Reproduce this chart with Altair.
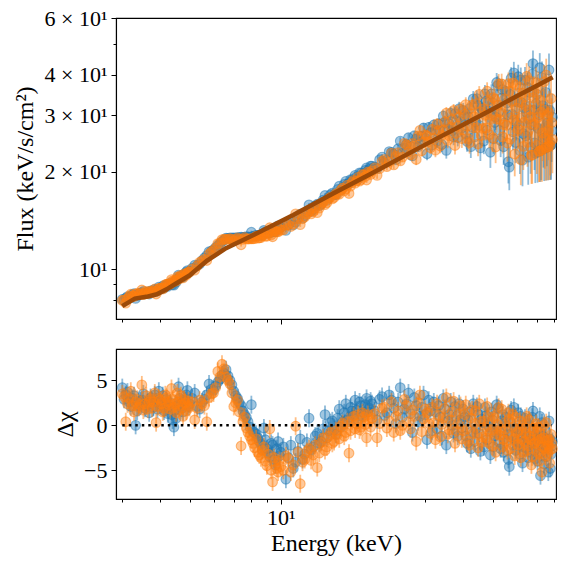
import altair as alt
import pandas as pd

# ---------------------------------------------------------------------------
# Spectral bins, first grid (keV)
energy_1 = [
    3.00, 3.08, 3.16, 3.24, 3.32, 3.40, 3.48, 3.56, 3.64, 3.72, 3.80, 3.88, 3.96,
    4.04, 4.12, 4.20, 4.28, 4.36, 4.44, 4.52, 4.60, 4.68, 4.76, 4.84, 4.92,
    5.0, 5.2, 5.4, 5.6, 5.8, 6.0, 6.2, 6.4, 6.6, 6.8, 7.0, 7.2, 7.4, 7.6, 7.8,
    8.0, 8.2, 8.4, 8.6, 8.8, 9.0, 9.2, 9.4, 9.6, 9.8,
    10.0, 10.4, 10.8, 11.2, 11.6, 12.0, 12.4, 12.8, 13.2, 13.6, 14.0, 14.4, 14.8,
    15.2, 15.6, 16.0, 16.4, 16.8, 17.2, 17.6, 18.0, 18.4, 18.8, 19.2, 19.6,
    20.0, 20.8, 21.6, 22.4, 23.2, 24.0, 24.8, 25.6, 26.4, 27.2, 28.0, 28.8, 29.6,
    30.4, 31.2, 32.0, 32.8, 33.6, 34.4, 35.2, 36.0, 36.8, 37.6, 38.4, 39.2,
    40.0, 40.8, 41.6, 42.4, 43.2, 44.0, 44.8, 45.6, 46.4, 47.2, 48.0, 48.8, 49.6,
    50.4, 51.2, 52.0, 52.8, 53.6, 54.4, 55.2, 56.0, 56.8, 57.6, 58.4, 59.2,
    60.0, 60.8, 61.6, 62.4, 63.2, 64.0, 64.8, 65.6, 66.4, 67.2, 68.0, 68.8, 69.6,
    70.4, 71.2, 72.0, 72.8, 73.6, 74.4, 75.2, 76.0, 76.8, 77.6, 78.4,
]
flux_err_1 = [
    0.09, 0.09, 0.10, 0.10, 0.10, 0.10, 0.10, 0.10, 0.10, 0.10, 0.10, 0.10, 0.10,
    0.10, 0.10, 0.10, 0.10, 0.11, 0.11, 0.11, 0.11, 0.11, 0.11, 0.11, 0.11,
    0.11, 0.12, 0.12, 0.13, 0.13, 0.13, 0.13, 0.14, 0.14, 0.14, 0.14, 0.14, 0.15, 0.15, 0.15,
    0.15, 0.15, 0.16, 0.16, 0.16, 0.16, 0.16, 0.16, 0.17, 0.17,
    0.18, 0.19, 0.20, 0.21, 0.22, 0.22, 0.23, 0.24, 0.25, 0.26, 0.27, 0.27, 0.28,
    0.29, 0.30, 0.31, 0.32, 0.33, 0.33, 0.35, 0.36, 0.37, 0.38, 0.39, 0.40,
    0.44, 0.47, 0.51, 0.56, 0.60, 0.64, 0.68, 0.73, 0.77, 0.82, 0.87, 0.92, 0.96,
    1.02, 1.06, 1.12, 1.17, 1.23, 1.27, 1.34, 1.38, 1.45, 1.49, 1.56, 1.61,
    1.68, 1.75, 1.80, 1.87, 1.92, 2.00, 2.07, 2.12, 2.20, 2.25, 2.33, 2.41, 2.46,
    2.55, 2.60, 2.68, 2.77, 2.82, 2.91, 2.96, 3.05, 3.14, 3.19, 3.28, 3.34,
    3.43, 3.52, 3.58, 3.67, 3.73, 3.83, 3.92, 3.98, 4.08, 4.14, 4.24, 4.33, 4.39,
    4.50, 4.56, 4.66, 4.76, 4.82, 4.93, 4.99, 5.09, 5.20, 5.26, 5.37,
]
flux_a_1 = [
    8.05, 8.12, 8.18, 8.32, 8.11, 8.35, 8.45, 8.38, 8.46, 8.56, 8.49, 8.60, 8.79,
    8.72, 8.72, 8.95, 8.96, 8.96, 8.91, 9.11, 9.57, 9.46, 9.45, 9.66, 9.89,
    9.83, 10.27, 10.37, 10.82, 11.31, 11.46, 11.83, 12.16, 12.46, 12.48, 12.48, 12.51, 12.55, 12.55, 12.58,
    13.00, 12.67, 12.72, 12.75, 13.17, 12.95, 12.93, 13.27, 13.04, 13.60,
    13.48, 13.18, 14.13, 13.98, 14.78, 14.64, 15.80, 15.29, 15.88, 15.88, 16.90, 16.65, 17.19,
    16.99, 18.05, 17.85, 18.70, 18.46, 18.91, 19.52, 19.01, 19.81, 19.74, 20.59, 20.37,
    20.85, 20.47, 22.23, 21.73, 22.99, 21.82, 24.92, 23.72, 25.53, 22.42, 25.33, 24.69, 27.37,
    22.77, 26.44, 27.96, 24.90, 26.76, 29.79, 23.33, 28.21, 26.85, 30.29, 25.56, 28.69,
    31.02, 26.19, 29.63, 23.96, 33.70, 28.58, 32.12, 23.74, 30.82, 34.92, 26.93, 30.44, 34.89,
    25.33, 29.59, 37.03, 26.93, 33.84, 23.93, 35.55, 30.08, 20.69, 39.04, 26.62, 33.07,
    28.46, 39.46, 23.28, 32.77, 26.26, 38.47, 30.54, 22.23, 35.25, 28.02, 43.30, 24.60, 32.53,
    23.03, 30.07, 23.29, 39.21, 25.45, 31.27, 23.80, 28.40, 41.39, 24.17, 26.85,
]
flux_b_1 = [
    7.99, 7.84, 8.22, 8.24, 8.36, 8.34, 8.61, 8.43, 8.39, 8.54, 8.55, 8.37, 8.70,
    8.73, 8.76, 8.97, 8.98, 9.27, 9.14, 9.17, 9.38, 9.56, 9.39, 9.64, 9.70,
    9.78, 9.92, 10.49, 10.72, 11.12, 11.42, 11.99, 12.33, 12.35, 12.42, 12.23, 12.49, 11.89, 12.52, 12.39,
    12.41, 12.42, 12.47, 12.52, 12.84, 12.64, 13.43, 12.59, 13.11, 13.04,
    13.19, 13.67, 13.55, 14.82, 13.73, 14.51, 15.02, 15.08, 14.96, 15.87, 15.83, 16.50, 16.50,
    17.11, 17.05, 17.80, 17.70, 17.15, 18.55, 18.46, 19.23, 18.93, 19.57, 18.88, 19.86,
    20.15, 19.52, 21.56, 20.78, 22.88, 22.34, 21.64, 24.52, 23.06, 24.49, 21.86, 26.89, 24.76,
    25.84, 23.77, 25.38, 28.15, 24.07, 26.98, 30.42, 25.87, 29.02, 24.15, 27.73, 31.27,
    26.99, 32.32, 25.32, 30.33, 27.38, 32.57, 24.44, 30.74, 27.29, 29.96, 35.58, 26.11, 29.93,
    33.98, 23.89, 32.18, 29.11, 37.50, 28.01, 31.71, 24.58, 35.57, 29.47, 37.75, 22.72,
    31.55, 27.13, 36.56, 29.48, 24.01, 34.29, 39.56, 26.72, 31.17, 22.50, 33.95, 28.05, 37.82,
    29.50, 23.16, 33.35, 23.42, 31.22, 25.39, 39.89, 23.93, 30.49, 24.76, 28.45,
]
resid_a_1 = [
    4.2, 3.4, 2.6, 3.0, 0.0, 2.2, 2.8, 1.9, 2.5, 3.1, 2.0, 2.6, 3.8,
    2.3, 1.6, 2.9, 2.1, 1.2, -0.2, 0.8, 4.3, 2.4, 1.5, 2.7, 3.9,
    2.4, 3.6, 1.8, 2.9, 4.6, 3.9, 4.8, 5.6, 6.2, 5.0, 3.8, 3.0, 2.2, 1.2, 0.4,
    2.3, -0.8, -1.4, -2.1, -0.3, -2.6, -3.5, -2.2, -4.4, -1.8,
    -3.0, -6.0, -2.2, -4.1, -1.5, -3.2, 0.8, -2.4, -0.9, -1.8, 1.2, -0.6, 0.5,
    -1.0, 1.8, 0.4, 2.4, 0.9, 1.6, 2.8, 0.6, 2.2, 1.4, 3.0, 1.9,
    2.4, 0.6, 3.2, 1.4, 2.8, 0.2, 4.2, 1.8, 3.6, -0.8, 2.2, 1.0, 3.4,
    -1.6, 1.6, 2.6, -0.4, 0.9, 3.0, -2.2, 1.2, 0.0, 2.1, -1.2, 0.6,
    1.8, -1.2, 0.6, -2.6, 2.4, -0.4, 1.2, -2.9, 0.3, 2.0, -1.6, -0.2, 1.5,
    -2.4, -0.8, 1.9, -1.9, 0.5, -3.0, 0.9, -1.0, -4.6, 1.7, -2.2, -0.3,
    -1.7, 1.4, -3.2, -0.6, -2.4, 0.8, -1.3, -3.6, -0.2, -2.0, 1.6, -2.8, -1.0,
    -4.0, -1.6, -5.6, 0.3, -2.6, -1.4, -3.5, -2.0, 0.5, -4.8, -2.3,
]
resid_b_1 = [
    3.5, 0.4, 3.0, 2.2, 2.6, 2.0, 4.5, 2.4, 1.8, 2.9, 2.6, 0.3, 3.0,
    2.4, 1.9, 3.1, 2.3, 4.1, 2.0, 1.4, 2.6, 3.3, 1.0, 2.5, 2.2,
    2.0, 0.6, 2.8, 2.2, 3.1, 3.6, 6.0, 6.8, 5.4, 4.6, 2.1, 2.8, -2.3, 0.9, -0.8,
    -1.6, -2.5, -3.0, -3.6, -2.4, -4.5, -0.4, -6.3, -4.0, -5.2,
    -4.6, -3.4, -5.2, -0.1, -6.5, -3.8, -2.6, -3.3, -4.7, -1.9, -2.8, -1.2, -2.0,
    -0.6, -1.5, 0.2, -0.8, -3.1, 0.5, -0.4, 1.2, -0.2, 0.9, -1.4, 0.6,
    0.8, -1.4, 1.9, -0.3, 2.6, 1.0, -0.6, 2.9, 0.4, 1.7, -1.8, 3.4, 0.7,
    1.4, -0.9, 0.3, 2.4, -1.3, 0.8, 3.1, -0.5, 1.5, -2.0, 0.2, 2.2,
    -0.6, 2.3, -1.8, 0.8, -0.9, 1.6, -2.5, 0.4, -1.3, -0.2, 2.1, -2.0, -0.5,
    1.0, -3.0, 0.1, -1.1, 1.8, -1.6, -0.4, -2.8, 0.7, -1.3, 1.2, -3.4,
    -0.8, -2.1, 0.5, -1.5, -3.0, -0.3, 1.0, -2.3, -1.2, -4.4, -0.6, -2.0, 0.2,
    -1.7, -3.2, -0.9, -5.2, -1.4, -2.6, 0.3, -3.1, -1.6, -2.7, -2.0,
]

# ---------------------------------------------------------------------------
# Spectral bins, second (interleaved) grid (keV)
energy_2 = [
    3.04, 3.12, 3.20, 3.28, 3.36, 3.44, 3.52, 3.60, 3.68, 3.76, 3.84, 3.92, 4.00,
    4.08, 4.16, 4.24, 4.32, 4.40, 4.48, 4.56, 4.64, 4.72, 4.80, 4.88, 4.96,
    5.1, 5.3, 5.5, 5.7, 5.9, 6.1, 6.3, 6.5, 6.7, 6.9, 7.1, 7.3, 7.5, 7.7, 7.9,
    8.1, 8.3, 8.5, 8.7, 8.9, 9.1, 9.3, 9.5, 9.7, 9.9,
    10.2, 10.6, 11.0, 11.4, 11.8, 12.2, 12.6, 13.0, 13.4, 13.8, 14.2, 14.6, 15.0,
    15.4, 15.8, 16.2, 16.6, 17.0, 17.4, 17.8, 18.2, 18.6, 19.0, 19.4, 19.8,
    20.4, 21.2, 22.0, 22.8, 23.6, 24.4, 25.2, 26.0, 26.8, 27.6, 28.4, 29.2, 30.0,
    30.8, 31.6, 32.4, 33.2, 34.0, 34.8, 35.6, 36.4, 37.2, 38.0, 38.8, 39.6,
    40.4, 41.2, 42.0, 42.8, 43.6, 44.4, 45.2, 46.0, 46.8, 47.6, 48.4, 49.2, 50.0,
    50.8, 51.6, 52.4, 53.2, 54.0, 54.8, 55.6, 56.4, 57.2, 58.0, 58.8, 59.6,
    60.4, 61.2, 62.0, 62.8, 63.6, 64.4, 65.2, 66.0, 66.8, 67.6, 68.4, 69.2, 70.0,
    70.8, 71.6, 72.4, 73.2, 74.0, 74.8, 75.6, 76.4, 77.2, 78.0, 78.8,
]
flux_err_2 = [
    0.09, 0.09, 0.10, 0.10, 0.10, 0.10, 0.10, 0.10, 0.10, 0.10, 0.10, 0.10, 0.10,
    0.10, 0.10, 0.10, 0.11, 0.11, 0.11, 0.11, 0.11, 0.11, 0.11, 0.11, 0.11,
    0.12, 0.12, 0.12, 0.13, 0.13, 0.13, 0.14, 0.14, 0.14, 0.14, 0.14, 0.15, 0.15, 0.15, 0.15,
    0.15, 0.15, 0.16, 0.16, 0.16, 0.16, 0.16, 0.16, 0.17, 0.17,
    0.19, 0.19, 0.21, 0.21, 0.22, 0.23, 0.23, 0.24, 0.25, 0.26, 0.27, 0.28, 0.29,
    0.30, 0.31, 0.31, 0.32, 0.33, 0.34, 0.35, 0.36, 0.37, 0.38, 0.39, 0.41,
    0.46, 0.50, 0.54, 0.58, 0.62, 0.66, 0.71, 0.75, 0.80, 0.85, 0.90, 0.95, 0.99,
    1.04, 1.10, 1.15, 1.20, 1.25, 1.31, 1.36, 1.42, 1.48, 1.53, 1.59, 1.65,
    1.71, 1.77, 1.84, 1.90, 1.96, 2.03, 2.10, 2.16, 2.23, 2.30, 2.37, 2.43, 2.50,
    2.57, 2.65, 2.72, 2.79, 2.86, 2.94, 3.01, 3.09, 3.16, 3.24, 3.31, 3.39,
    3.47, 3.55, 3.63, 3.70, 3.79, 3.87, 3.95, 4.03, 4.11, 4.19, 4.28, 4.36, 4.44,
    4.53, 4.62, 4.70, 4.79, 4.87, 4.96, 5.05, 5.14, 5.23, 5.32, 5.41,
]
flux_a_2 = [
    8.00, 8.21, 8.18, 8.39, 8.28, 8.42, 8.52, 8.41, 8.37, 8.55, 8.65, 8.55, 8.70,
    8.86, 8.81, 8.84, 9.05, 8.94, 9.15, 9.30, 9.48, 9.44, 9.64, 9.79, 9.74,
    10.05, 10.25, 10.62, 11.01, 11.35, 11.65, 11.98, 12.30, 12.45, 12.49, 12.48, 12.51, 12.53, 12.59, 12.55,
    12.62, 12.72, 12.72, 12.73, 13.04, 12.93, 13.23, 13.07, 13.40, 13.39,
    13.71, 13.72, 13.71, 14.35, 14.38, 15.05, 15.10, 15.69, 15.72, 16.36, 16.32, 17.01, 17.03,
    17.64, 17.57, 18.29, 18.26, 18.93, 18.86, 19.30, 19.86, 19.47, 20.21, 20.11, 20.84,
    20.72, 21.81, 21.35, 23.11, 22.69, 23.60, 22.87, 24.39, 23.95, 25.89, 23.95, 25.82, 25.44,
    27.49, 24.24, 26.91, 28.16, 24.32, 28.47, 27.11, 30.40, 25.68, 28.82, 31.39, 27.36,
    29.69, 24.87, 31.44, 27.63, 25.69, 33.75, 27.89, 31.53, 24.93, 33.09, 30.80, 23.01, 32.80,
    28.46, 37.87, 30.70, 25.02, 35.98, 28.38, 32.71, 21.51, 34.75, 30.15, 40.57, 24.68,
    33.03, 27.88, 38.49, 21.75, 31.53, 25.87, 36.54, 29.14, 23.84, 40.19, 31.05, 22.83, 34.82,
    27.27, 42.07, 23.58, 32.11, 23.61, 35.30, 25.87, 23.99, 31.03, 24.24, 29.55,
]
flux_b_2 = [
    8.02, 8.09, 8.35, 8.22, 8.41, 8.39, 8.34, 8.53, 8.49, 8.46, 8.67, 8.58, 8.73,
    8.67, 8.95, 8.97, 8.98, 9.19, 9.23, 9.45, 9.33, 9.49, 9.65, 9.58, 9.80,
    10.00, 10.23, 10.60, 10.63, 11.29, 11.61, 12.02, 12.37, 12.38, 12.36, 12.36, 12.37, 12.36, 12.40, 12.40,
    12.41, 12.64, 12.49, 12.70, 12.65, 12.92, 12.75, 13.11, 13.03, 13.30,
    13.23, 13.71, 13.79, 14.32, 14.32, 14.81, 14.82, 15.45, 15.44, 16.10, 16.05, 16.71, 16.66,
    17.10, 17.58, 17.47, 18.19, 18.07, 18.82, 18.77, 18.72, 19.63, 19.36, 19.99, 19.64,
    20.60, 20.48, 21.85, 21.44, 21.02, 22.94, 22.23, 24.23, 22.60, 24.10, 25.84, 23.26, 26.04,
    24.79, 27.08, 23.36, 26.84, 25.95, 28.60, 25.05, 27.56, 31.00, 26.36, 29.65, 25.38,
    30.19, 27.71, 24.64, 32.20, 29.61, 27.46, 34.80, 25.92, 31.41, 27.34, 33.17, 29.09, 25.54,
    33.60, 29.16, 37.50, 30.61, 25.67, 33.65, 27.89, 37.57, 25.28, 33.08, 28.99, 37.22,
    26.77, 32.86, 21.82, 35.08, 28.50, 32.05, 24.70, 38.38, 29.60, 22.57, 35.33, 28.54, 24.15,
    36.36, 23.23, 30.63, 26.40, 38.08, 23.74, 29.91, 26.89, 24.11, 33.77, 25.22,
]
resid_a_2 = [
    2.9, 3.7, 2.1, 3.3, 1.6, 2.7, 3.5, 2.2, 1.4, 2.8, 3.4, 1.8, 2.6,
    3.3, 2.0, 1.3, 2.5, 0.6, 1.7, 2.2, 3.0, 1.9, 2.8, 3.4, 2.1,
    3.0, 2.1, 2.6, 3.4, 4.0, 4.4, 5.1, 5.8, 5.5, 4.5, 3.3, 2.5, 1.6, 0.9, -0.2,
    -0.7, -1.0, -1.8, -2.7, -1.6, -3.1, -2.0, -3.8, -2.6, -3.4,
    -2.4, -3.6, -4.8, -2.9, -3.8, -1.9, -2.7, -1.2, -2.0, -0.4, -1.4, 0.3, -0.5,
    0.8, -0.2, 1.4, 0.6, 2.0, 1.1, 1.7, 2.6, 1.0, 2.3, 1.5, 2.7,
    1.6, 2.9, 1.1, 3.4, 1.9, 2.6, 0.9, 2.4, 1.3, 3.1, 0.4, 2.0, 1.2,
    2.8, -0.6, 1.5, 2.2, -1.2, 1.8, 0.5, 2.6, -0.9, 1.0, 2.4, -0.3,
    0.9, -2.0, 1.5, -0.7, -1.8, 2.1, -0.9, 0.7, -2.4, 1.1, 0.0, -3.3, 0.6,
    -1.2, 2.3, -0.5, -2.6, 1.2, -1.5, -0.1, -3.8, 0.4, -1.1, 2.0, -2.8,
    -0.4, -1.9, 1.0, -4.2, -1.0, -2.5, 0.2, -1.7, -3.0, 0.9, -1.3, -3.7, -0.5,
    -2.2, 1.0, -3.0, -1.2, -4.3, -0.6, -2.5, -5.2, -1.5, -3.2, -1.8,
]
resid_b_2 = [
    3.2, 2.4, 3.8, 1.5, 2.9, 2.3, 1.7, 3.3, 2.6, 1.9, 3.6, 2.1, 2.8,
    1.5, 3.4, 2.6, 1.8, 2.9, 2.4, 3.6, 1.7, 2.3, 2.9, 1.6, 2.7,
    2.6, 1.9, 2.4, 0.4, 3.5, 4.2, 5.4, 6.3, 5.0, 3.6, 2.5, 1.5, 0.4, -0.3, -1.2,
    -2.0, -1.5, -3.3, -2.8, -4.0, -3.2, -5.0, -3.6, -4.8, -3.9,
    -5.0, -3.7, -4.4, -3.0, -4.1, -2.9, -3.9, -2.2, -3.1, -1.4, -2.4, -0.8, -1.8,
    -1.0, -0.1, -1.2, 0.4, -0.6, 1.0, 0.2, -0.5, 1.4, 0.1, 1.2, -0.2,
    1.3, 0.2, 2.0, 0.5, -0.8, 1.6, 0.0, 2.2, -0.4, 1.0, 2.5, -0.7, 1.8,
    0.2, 2.0, -1.6, 1.1, 0.1, 1.9, -1.0, 0.6, 2.7, -0.6, 1.3, -1.5,
    1.2, -0.4, -2.2, 1.7, 0.2, -1.0, 2.4, -1.9, 0.5, -1.4, 1.0, -0.8, -2.3,
    0.8, -1.0, 2.0, -0.6, -2.4, 0.3, -1.7, 1.4, -2.6, -0.2, -1.5, 0.9,
    -2.2, -0.5, -3.6, 0.0, -1.8, -0.9, -2.8, 0.6, -1.6, -3.5, -0.3, -1.9, -2.9,
    -0.2, -4.0, -1.5, -2.4, 0.0, -3.4, -1.7, -2.3, -4.2, -1.0, -2.6,
]

# Best-fit model curve
model_energy = [3.0, 3.3, 3.6, 3.9, 4.2, 4.5, 5.0, 5.7, 6.6, 8.0, 11.0, 15.0,
                20.0, 30.0, 40.0, 50.0, 60.0, 70.0, 79.0]
model_flux = [7.67, 8.10, 8.20, 8.35, 8.65, 9.00, 9.55, 10.60, 11.60, 12.65, 14.70,
              17.20, 19.80, 24.30, 28.00, 31.30, 34.30, 37.00, 39.30]

# Zero-residual reference
zero_energy = [3.0, 78.4]
zero_level = [0.0, 0.0]

BLUE = "#1f77b4"
ORANGE = "#ff7f0e"
MODEL = "#9c4a08"
FONT = "Liberation Serif"


def frame(energies, errs, flux, resid):
    df = pd.DataFrame({"E": energies, "flux": flux, "ferr": errs, "resid": resid})
    df["lo"] = df["flux"] - df["ferr"]
    df["hi"] = df["flux"] + df["ferr"]
    df["rlo"] = df["resid"] - 1.0
    df["rhi"] = df["resid"] + 1.0
    return df


dfa = pd.concat([frame(energy_1, flux_err_1, flux_a_1, resid_a_1),
                 frame(energy_2, flux_err_2, flux_a_2, resid_a_2)]).sort_values("E")
dfb = pd.concat([frame(energy_1, flux_err_1, flux_b_1, resid_b_1),
                 frame(energy_2, flux_err_2, flux_b_2, resid_b_2)]).sort_values("E")
model_df = pd.DataFrame({"E": model_energy, "F": model_flux})
zero_df = pd.DataFrame({"E": zero_energy, "R": zero_level})

xscale = alt.Scale(type="log", domain=[2.86, 81], nice=False)
minor_x = [3, 4, 5, 6, 7, 8, 9, 20, 30, 40, 50, 60, 70, 80]


def x_minor_axis():
    return alt.Axis(values=minor_x, tickSize=3, labels=False, title=None,
                    grid=False, orient="bottom", domain=False)


def x_major_axis(show_label):
    if show_label:
        return alt.Axis(values=[10], tickSize=5, labelExpr="'10¹'", title="Energy (keV)",
                        grid=False, orient="bottom", labelPadding=3, titlePadding=3)
    return alt.Axis(values=[10], tickSize=5, labels=False, title=None,
                    grid=False, orient="bottom")


def errbars(df, color, ylo, yhi, yscale, xaxis=None, yaxis=None):
    return alt.Chart(df).mark_rule(color=color, strokeWidth=1.8, opacity=0.5).encode(
        x=alt.X("E:Q", scale=xscale, axis=xaxis),
        y=alt.Y(f"{ylo}:Q", scale=yscale, axis=yaxis),
        y2=f"{yhi}:Q",
    )


def dots(df, color, yfield, yscale, xaxis=None, yaxis=None):
    return alt.Chart(df).mark_point(
        shape="circle", filled=False, fill=color, fillOpacity=0.42,
        stroke=color, strokeOpacity=0.5, strokeWidth=1.1, size=95,
    ).encode(
        x=alt.X("E:Q", scale=xscale, axis=xaxis),
        y=alt.Y(f"{yfield}:Q", scale=yscale, axis=yaxis),
    )


# ---- spectrum panel ----
flux_scale = alt.Scale(type="log", domain=[7, 60], nice=False)
flux_major = alt.Axis(
    values=[10, 20, 30, 40, 60], tickSize=5, grid=False, orient="left",
    labelExpr="datum.value == 10 ? '10¹' : (datum.value / 10) + ' × 10¹'",
    title="Flux (keV/s/cm²)", labelPadding=4, titlePadding=6,
)
flux_minor = alt.Axis(values=[8, 9, 50], tickSize=3, labels=False, title=None,
                      grid=False, orient="left", domain=False)

model_line = alt.Chart(model_df).mark_line(color=MODEL, strokeWidth=4.5).encode(
    x=alt.X("E:Q", scale=xscale, axis=None),
    y=alt.Y("F:Q", scale=flux_scale, axis=None),
)
top = alt.layer(
    errbars(dfa, BLUE, "lo", "hi", flux_scale, x_minor_axis(), flux_minor),
    dots(dfa, BLUE, "flux", flux_scale, x_major_axis(False), flux_major),
    errbars(dfb, ORANGE, "lo", "hi", flux_scale),
    dots(dfb, ORANGE, "flux", flux_scale),
    model_line,
).resolve_axis(x="independent", y="independent").properties(width=440, height=301)

# ---- residual panel ----
res_scale = alt.Scale(domain=[-8.2, 8.5], nice=False, zero=False)
res_axis = alt.Axis(values=[-5, 0, 5], tickSize=5, grid=False, orient="left",
                    title="Δχ", labelPadding=4, titlePadding=6)

zero_line = alt.Chart(zero_df).mark_line(color="black", strokeWidth=2.5,
                                         strokeDash=[2.5, 4]).encode(
    x=alt.X("E:Q", scale=xscale, axis=None),
    y=alt.Y("R:Q", scale=res_scale, axis=None),
)
bottom = alt.layer(
    errbars(dfa, BLUE, "rlo", "rhi", res_scale, x_minor_axis(), res_axis),
    dots(dfa, BLUE, "resid", res_scale, x_major_axis(True), None),
    errbars(dfb, ORANGE, "rlo", "rhi", res_scale),
    dots(dfb, ORANGE, "resid", res_scale),
    zero_line,
).resolve_axis(x="independent", y="independent").properties(width=440, height=150)

chart = alt.vconcat(top, bottom, spacing=22).properties(
    padding={"left": 13, "top": 6, "right": 5, "bottom": 5},
    background="white",
).configure_view(
    stroke="black", strokeWidth=1.1,
).configure_axis(
    labelFont=FONT, titleFont=FONT, labelFontSize=22, titleFontSize=24,
    titleFontWeight="normal", labelColor="black", titleColor="black",
    tickColor="black", tickWidth=1, domainColor="black", domainWidth=1.1,
)

chart.save("out.html", embed_options={"renderer": "svg", "actions": False})
